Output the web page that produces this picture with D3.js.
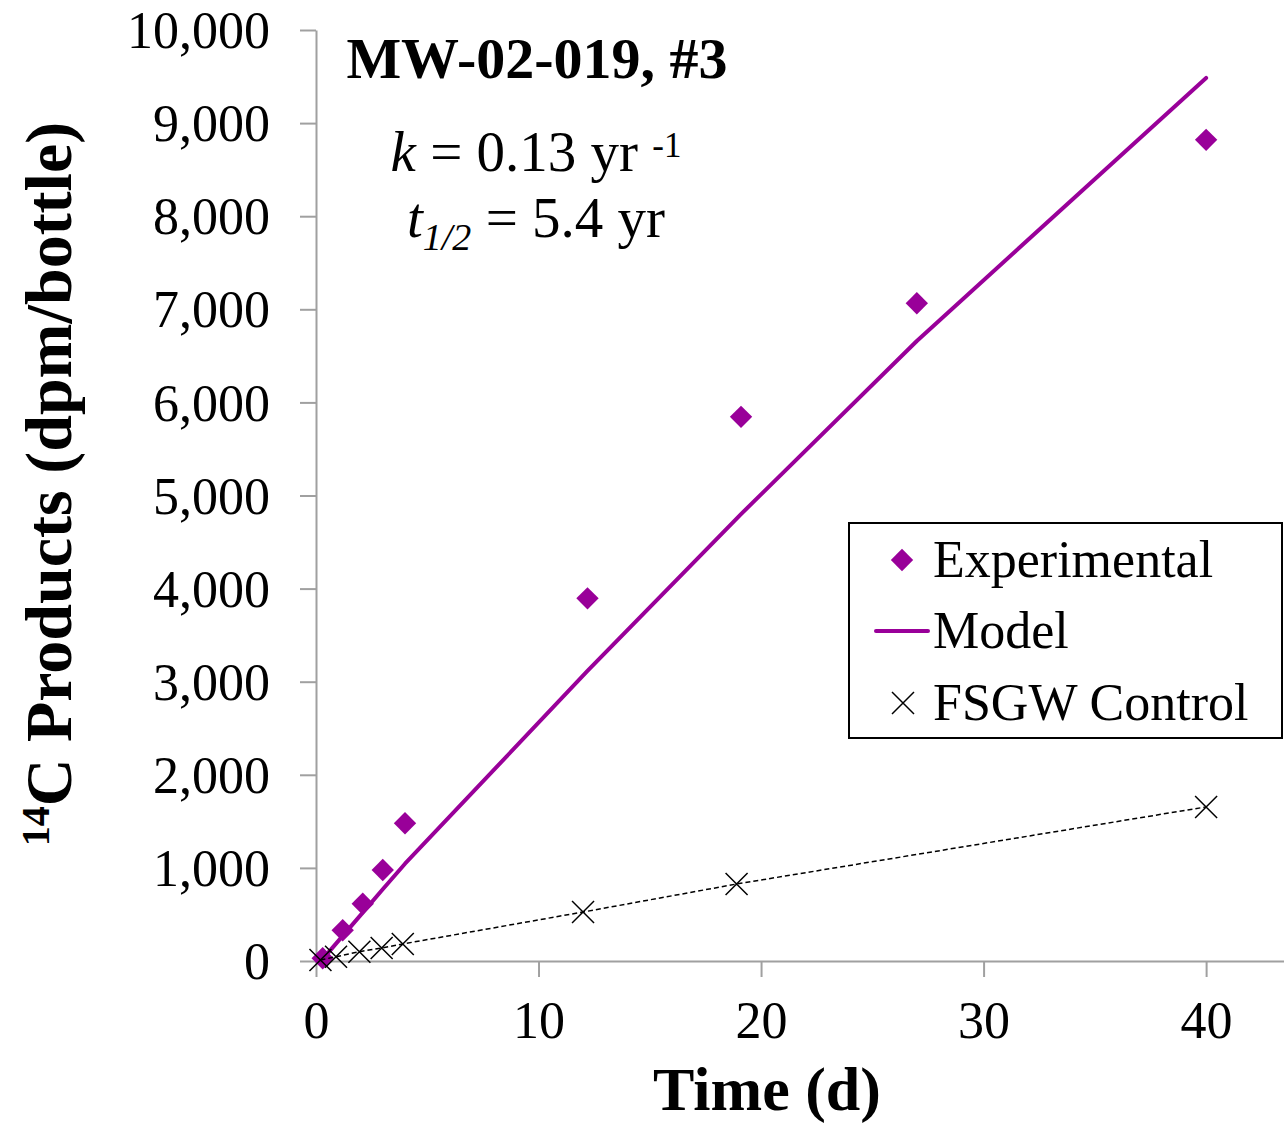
<!DOCTYPE html>
<html>
<head>
<meta charset="utf-8">
<script src="https://cdn.jsdelivr.net/npm/d3@7"></script>
<style>
  body { margin: 0; background: #fff; }
  svg { display: block; font-family: "Liberation Serif", "Times New Roman", serif; }
</style>
</head>
<body>
<div id="chart"></div>
<script>
// data
const expTime  = [0.3, 1.2, 2.1, 3.0, 4.0, 12.2, 19.1, 27.0, 40.0];
const expValue = [30, 330, 615, 977, 1480, 3895, 5845, 7065, 8820];

const modelTime  = [0.3, 1.2, 2.1, 3.0, 4.0, 12.2, 19.1, 27.0, 40.0];
const modelValue = [20, 270, 520, 770, 1045, 3115, 4800, 6660, 9485];

const ctrlTime  = [0.2, 0.9, 1.95, 2.95, 3.9, 12.0, 18.9, 40.0];
const ctrlValue = [10, 46, 100, 140, 183, 526, 827, 1655];

const xTicks = [0, 10, 20, 30, 40];
const yTicks = [0, 1000, 2000, 3000, 4000, 5000, 6000, 7000, 8000, 9000, 10000];

const purple = "#990099";
const axisGrey = "#a0a0a0";

// set the dimensions and margins of the graph
const margin = {top: 30, right: 0, bottom: 164, left: 316},
      width = 1284 - margin.left - margin.right,
      height = 1125 - margin.top - margin.bottom;

const svg = d3.select("#chart")
  .append("svg")
    .attr("width", 1284)
    .attr("height", 1125)
  .append("g")
    .attr("transform", `translate(${margin.left},${margin.top})`);

const x = d3.scaleLinear().domain([0, 43.5]).range([0, width]);
const y = d3.scaleLinear().domain([0, 10000]).range([height, 0]);

// axes
const xAxis = svg.append("g")
    .attr("transform", `translate(0,${height})`)
    .call(d3.axisBottom(x).tickValues(xTicks).tickSize(16).tickSizeOuter(0).tickPadding(24));

const yAxis = svg.append("g")
    .call(d3.axisLeft(y).tickValues(yTicks).tickSize(16).tickSizeOuter(0).tickPadding(30)
      .tickFormat(d3.format(",")));

[xAxis, yAxis].forEach(a => {
  a.select(".domain").attr("stroke", axisGrey).attr("stroke-width", 2);
  a.selectAll(".tick line").attr("stroke", axisGrey).attr("stroke-width", 2);
  a.selectAll(".tick text")
    .attr("fill", "#000")
    .style("font-family", "Liberation Serif")
    .style("font-size", "52px");
});
yAxis.selectAll(".tick text").attr("dy", "0.34em");

// experimental diamonds
svg.append("g")
  .selectAll("path")
  .data(expTime.map((t, i) => [t, expValue[i]]))
  .join("path")
    .attr("d", d3.symbol(d3.symbolSquare, 250))
    .attr("transform", d => `translate(${x(d[0])},${y(d[1])}) rotate(45)`)
    .attr("fill", purple);

// model line
svg.append("path")
  .datum(modelTime.map((t, i) => [t, modelValue[i]]))
  .attr("fill", "none")
  .attr("stroke", purple)
  .attr("stroke-width", 4)
  .attr("stroke-linecap", "round")
  .attr("stroke-linejoin", "round")
  .attr("d", d3.line().x(d => x(d[0])).y(d => y(d[1])));

// control: dashed line + crosses
const ctrl = ctrlTime.map((t, i) => [t, ctrlValue[i]]);
svg.append("path")
  .datum(ctrl)
  .attr("fill", "none")
  .attr("stroke", "#000")
  .attr("stroke-width", 1.5)
  .attr("stroke-dasharray", "5,3")
  .attr("d", d3.line().x(d => x(d[0])).y(d => y(d[1])));

const crossPath = "M-11,-11L11,11M-11,11L11,-11";
svg.append("g")
  .selectAll("path")
  .data(ctrl)
  .join("path")
    .attr("d", crossPath)
    .attr("transform", d => `translate(${x(d[0])},${y(d[1])})`)
    .attr("stroke", "#000")
    .attr("stroke-width", 1.5)
    .attr("fill", "none");

// axis titles
const root = d3.select("svg");
root.append("text")
  .attr("x", 767).attr("y", 1110)
  .attr("text-anchor", "middle")
  .style("font-size", "62px").style("font-weight", "bold")
  .text("Time (d)");

const yTitle = root.append("text")
  .attr("transform", "translate(62,484) rotate(-90)")
  .attr("text-anchor", "middle")
  .style("font-size", "66px").style("font-weight", "bold");
yTitle.append("tspan").attr("dy", "-0.33em").style("font-size", "40px").text("14");
yTitle.append("tspan").attr("dy", "0.33em").text("C Products (dpm/bottle)");

// annotation
root.append("text")
  .attr("x", 537).attr("y", 78)
  .attr("text-anchor", "middle")
  .style("font-size", "58px").style("font-weight", "bold")
  .text("MW-02-019, #3");

const kText = root.append("text")
  .attr("x", 536).attr("y", 171)
  .attr("text-anchor", "middle")
  .style("font-size", "57px");
kText.append("tspan").style("font-style", "italic").text("k");
kText.append("tspan").text(" = 0.13 yr ");
kText.append("tspan").attr("dy", -14).style("font-size", "35px").text("-1");

const tText = root.append("text")
  .attr("x", 536).attr("y", 237)
  .attr("text-anchor", "middle")
  .style("font-size", "57px");
tText.append("tspan").style("font-style", "italic").text("t");
tText.append("tspan").attr("dy", 13).style("font-style", "italic").style("font-size", "38px").text("1/2");
tText.append("tspan").attr("dy", -13).text(" = 5.4 yr");

// legend
const legend = root.append("g");
legend.append("rect")
  .attr("x", 849).attr("y", 523).attr("width", 433).attr("height", 215)
  .attr("fill", "#fff").attr("stroke", "#000").attr("stroke-width", 2);

const legendItems = ["Experimental", "Model", "FSGW Control"];
const legendY = [560, 631, 703];
legendItems.forEach((name, i) => {
  legend.append("text")
    .attr("x", 933).attr("y", legendY[i]).attr("dy", "0.33em")
    .style("font-size", "52px")
    .text(name);
});
legend.append("path")
  .attr("d", d3.symbol(d3.symbolSquare, 250))
  .attr("transform", `translate(902,${legendY[0]}) rotate(45)`)
  .attr("fill", purple);
legend.append("line")
  .attr("x1", 876).attr("x2", 928).attr("y1", legendY[1]).attr("y2", legendY[1])
  .attr("stroke", purple).attr("stroke-width", 4).attr("stroke-linecap", "round");
legend.append("path")
  .attr("d", crossPath)
  .attr("transform", `translate(903,${legendY[2]})`)
  .attr("stroke", "#000").attr("stroke-width", 1.5).attr("fill", "none");
</script>
</body>
</html>
